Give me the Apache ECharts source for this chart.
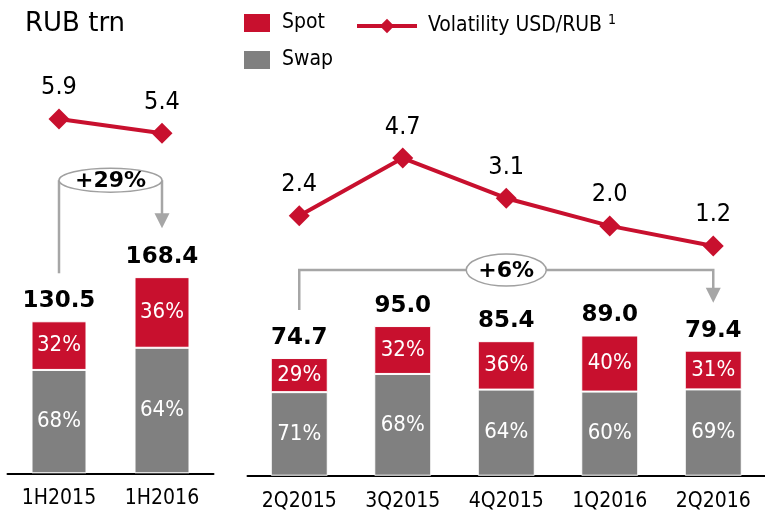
<!DOCTYPE html>
<html>
<head>
<meta charset="utf-8">
<script src="https://cdn.jsdelivr.net/npm/echarts@6/dist/echarts.min.js"></script>
<style>
  html, body { margin: 0; padding: 0; background: #fff; }
  #chart { width: 765px; height: 512px; }
</style>
</head>
<body>
<div id="chart"></div>
<script>
// data
const halfCats = ['1H2015', '1H2016']
const halfTotal = [130.5, 168.4]
const halfSpotPct = [32, 36]
const halfSwapPct = [68, 64]
const halfVol = [5.9, 5.4]
const halfGrowth = '+29%'

const qCats = ['2Q2015', '3Q2015', '4Q2015', '1Q2016', '2Q2016']
const qTotal = [74.7, 95.0, 85.4, 89.0, 79.4]
const qSpotPct = [29, 32, 36, 40, 31]
const qSwapPct = [71, 68, 64, 60, 69]
const qVol = [2.4, 4.7, 3.1, 2.0, 1.2]
const qGrowth = '+6%'

const RED = '#c8102e'
const GREY = '#808080'
const ARROW = '#a6a6a6'
const FONT = "'DejaVu Sans Condensed', 'DejaVu Sans', sans-serif"

const part = (totals, pct) => totals.map((t, i) => t * pct[i] / 100)

const pctLabel = (arr) => ({
  show: true,
  position: 'inside',
  color: '#fff',
  fontSize: 22,
  fontFamily: FONT,
  formatter: p => arr[p.dataIndex] + '%'
})

const totalLabel = {
  show: true,
  position: 'top',
  distance: 8,
  color: '#000',
  fontSize: 23,
  fontWeight: 'bold',
  fontFamily: "'DejaVu Sans', sans-serif",
  formatter: p => p.value.toFixed(1)
}

const volLabel = {
  show: true,
  position: 'top',
  distance: 8,
  color: '#000',
  fontSize: 25,
  fontFamily: FONT,
  formatter: p => p.value.toFixed(1)
}

function barPair (xi, yi, stack, totals, spotPct, swapPct, width) {
  return [
    {
      name: 'Swap', type: 'bar', xAxisIndex: xi, yAxisIndex: yi, stack: stack,
      barWidth: width, data: part(totals, swapPct),
      itemStyle: { color: GREY, borderColor: '#fff', borderWidth: 1 },
      label: pctLabel(swapPct)
    },
    {
      name: 'Spot', type: 'bar', xAxisIndex: xi, yAxisIndex: yi, stack: stack,
      barWidth: width, data: part(totals, spotPct),
      itemStyle: { color: RED, borderColor: '#fff', borderWidth: 1 },
      label: pctLabel(spotPct)
    },
    {
      name: 'Total', type: 'scatter', xAxisIndex: xi, yAxisIndex: yi,
      data: totals, symbolSize: 1, itemStyle: { color: 'rgba(0,0,0,0)', opacity: 1 },
      label: totalLabel, silent: true
    }
  ]
}

function volLine (xi, yi, data) {
  return {
    name: 'Volatility USD/RUB', type: 'line', xAxisIndex: xi, yAxisIndex: yi,
    data: data, symbol: 'diamond', symbolSize: 21, clip: false,
    lineStyle: { color: RED, width: 4 },
    itemStyle: { color: RED },
    label: volLabel
  }
}

const catAxis = (gi, data) => ({
  type: 'category', gridIndex: gi, data: data,
  axisTick: { show: false },
  axisLine: { lineStyle: { color: '#000', width: 2 } },
  axisLabel: { color: '#000', fontSize: 21, fontFamily: FONT, margin: 15 }
})

const chart = echarts.init(document.getElementById('chart'))

chart.setOption({
  animation: false,
  textStyle: { fontFamily: FONT },
  title: {
    text: 'RUB trn', left: 25, top: 11, padding: 0,
    textStyle: { fontSize: 26, fontWeight: 'normal', color: '#000', fontFamily: "'DejaVu Sans', sans-serif" }
  },
  legend: [
    {
      data: ['Spot', 'Swap'], orient: 'vertical', left: 242, top: 12, padding: 0,
      itemWidth: 28, itemHeight: 20, itemGap: 15,
      icon: 'rect',
      textStyle: { fontSize: 21, color: '#000', padding: [0, 0, 0, 6] }
    },
    {
      data: ['Volatility USD/RUB'], left: 355, top: 13, padding: 0,
      itemWidth: 60, itemHeight: 18,
      lineStyle: { width: 4 },
      formatter: name => '{n|' + name + '} {s|1}',
      textStyle: {
        fontSize: 21, color: '#000', padding: [0, 0, 0, 6],
        rich: {
          n: { fontSize: 21, color: '#000' },
          s: { fontSize: 14, color: '#000', padding: [0, 0, 12, 0] }
        }
      }
    }
  ],
  grid: [
    { left: 7.5, width: 206, top: 60, bottom: 38.7 },
    { left: 247.5, width: 525, top: 60, bottom: 36.3 }
  ],
  xAxis: [catAxis(0, halfCats), catAxis(1, qCats)],
  yAxis: [
    { type: 'value', gridIndex: 0, min: 0, max: 354.8, show: false },
    { type: 'value', gridIndex: 0, min: -6.49, max: 7.96, show: false },
    { type: 'value', gridIndex: 1, min: 0, max: 263.9, show: false },
    { type: 'value', gridIndex: 1, min: -7.94, max: 8.6, show: false }
  ],
  series: [
    ...barPair(0, 0, 'half', halfTotal, halfSpotPct, halfSwapPct, 55),
    volLine(0, 1, halfVol),
    ...barPair(1, 2, 'q', qTotal, qSpotPct, qSwapPct, 57),
    volLine(1, 3, qVol)
  ]
})

// growth brackets, positioned from the bar scales
function arrowHead (x, tipY) {
  return {
    type: 'polygon', z: 20,
    shape: { points: [[x - 7.5, tipY - 15], [x + 7.5, tipY - 15], [x, tipY]] },
    style: { fill: ARROW }
  }
}

function badge (cx, cy, rx, ry, text) {
  return [
    {
      type: 'ellipse', z: 21,
      shape: { cx: cx, cy: cy, rx: rx, ry: ry },
      style: { fill: '#fff', stroke: '#a0a0a0', lineWidth: 1.5 }
    },
    {
      type: 'text', z: 22, x: cx, y: cy + 1,
      style: {
        text: text, fill: '#000', fontSize: 22, fontWeight: 'bold',
        fontFamily: "'DejaVu Sans', sans-serif", align: 'center', verticalAlign: 'middle'
      }
    }
  ]
}

const h0 = chart.convertToPixel({ xAxisIndex: 0, yAxisIndex: 0 }, [0, halfTotal[0]])
const h1 = chart.convertToPixel({ xAxisIndex: 0, yAxisIndex: 0 }, [1, halfTotal[1]])
const hY = h1[1] - 97
const hTip = h1[1] - 49

const qTops = qTotal.map((v, i) => chart.convertToPixel({ xAxisIndex: 1, yAxisIndex: 2 }, [i, v]))
const q0 = qTops[0]
const q4 = qTops[qTops.length - 1]
const qY = Math.min(...qTops.map(p => p[1])) - 56
const qTip = q4[1] - 48

chart.setOption({
  graphic: [
    {
      type: 'polyline', z: 20,
      shape: { points: [[h0[0], h0[1] - 48], [h0[0], hY]] },
      style: { stroke: ARROW, lineWidth: 2.5, fill: null }
    },
    {
      type: 'polyline', z: 20,
      shape: { points: [[h1[0], hY], [h1[0], hTip - 14]] },
      style: { stroke: ARROW, lineWidth: 2.5, fill: null }
    },
    arrowHead(h1[0], hTip),
    ...badge((h0[0] + h1[0]) / 2, hY, (h1[0] - h0[0]) / 2, 12, halfGrowth),
    {
      type: 'polyline', z: 20,
      shape: { points: [[q0[0], q0[1] - 48], [q0[0], qY], [q4[0], qY], [q4[0], qTip - 14]] },
      style: { stroke: ARROW, lineWidth: 2.5, fill: null }
    },
    arrowHead(q4[0], qTip),
    ...badge((q0[0] + q4[0]) / 2, qY, 40, 16, qGrowth)
  ]
})
</script>
</body>
</html>
